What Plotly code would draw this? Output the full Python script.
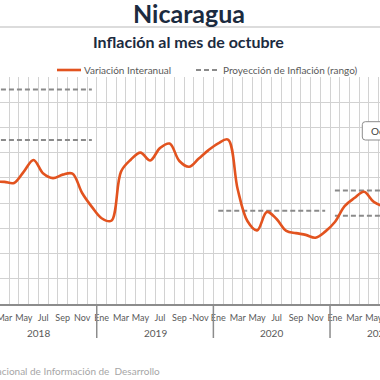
import plotly.graph_objects as go

# ---------------- data ----------------
months = ["Ene", "Feb", "Mar", "Abr", "May", "Jun", "Jul", "Ago", "Sep", "Oct", "Nov", "Dic"]
years = [2018, 2019, 2020, 2021]

# Variación interanual (%), monthly from Ene-2018 to Oct-2021
inflation = [
    4.90, 4.85, 4.84, 4.80, 5.25, 5.71, 5.17, 4.99, 5.13, 5.17, 4.40, 3.85,   # 2018
    3.40, 3.30, 5.25, 5.72, 6.00, 5.69, 6.18, 6.36, 5.67, 5.44, 5.77, 6.10,   # 2019
    6.37, 6.52, 4.55, 3.29, 2.92, 3.65, 3.37, 2.90, 2.81, 2.74, 2.63, 2.87,   # 2020
    3.25, 3.88, 4.20, 4.45, 4.05, 3.91, 4.30, 4.90, 5.40, 5.90,               # 2021
]

# Proyección de inflación (rango) por año
proj_years = [2018, 2020, 2021]
proj_low = [6.5, 3.7, 3.5]
proj_high = [8.5, 3.7, 4.5]

# month tick labels (every other month)
tick_month_idx = [0, 2, 4, 6, 8, 10]
special_labels = {(2019, 10): "-Nov"}

legend_names = ["Variación Interanual", "Proyección de Inflación (rango)"]
source_text = "Fuente: Sistema Nacional de Información de\u00a0 Desarrollo"
callout_text = "Octubre"

# ---------------- layout helpers ----------------
W, H = 380, 380
T, B = 77, 76
plot_h = H - T - B
x_range = [1.55, 40.64]
n = len(inflation)


def px_x(i):
    return (i - x_range[0]) / (x_range[1] - x_range[0])


def py(ypix):
    return (H - B - ypix) / plot_h


x_idx = list(range(n))

# projection dashed segments (Ene..last month of each year)
px_list, py_list = [], []
for yr, lo, hi in zip(proj_years, proj_low, proj_high):
    s = (yr - years[0]) * 12
    e = min(s + 11, n - 1)
    levels = [hi] if lo == hi else [hi, lo]
    for lv in levels:
        px_list += [s, e, None]
        py_list += [lv, lv, None]

tickvals, ticktext = [], []
for yi, yr in enumerate(years):
    for m in tick_month_idx:
        tickvals.append(yi * 12 + m)
        ticktext.append(special_labels.get((yr, m), months[m]))

RED = "#E2531F"
GRAY_DASH = "#8a8a8a"

fig = go.Figure()
fig.add_trace(go.Scatter(
    x=px_list, y=py_list, mode="lines", name=legend_names[1],
    line=dict(color=GRAY_DASH, width=2, dash="5px,3px"), showlegend=False,
    hoverinfo="skip",
))
fig.add_trace(go.Scatter(
    x=x_idx, y=inflation, mode="lines", name=legend_names[0],
    line=dict(color=RED, width=2.6, shape="spline", smoothing=1.0), showlegend=False,
))

grid = "#d2d2d2"
fig.update_layout(
    width=W, height=H,
    margin=dict(l=0, r=0, t=T, b=B, autoexpand=False),
    paper_bgcolor="white", plot_bgcolor="white",
    font=dict(family="Lato, 'DejaVu Sans', sans-serif", color="#595959", size=10),
    showlegend=False,
    xaxis=dict(range=x_range, tickmode="array", tickvals=tickvals, ticktext=ticktext,
               showgrid=False, zeroline=False, showline=True, linecolor="#8c8c8c", linewidth=1.5,
               ticks="", tickfont=dict(size=9, color="#595959"), ticklabelstandoff=4,
               tickangle=0, automargin=False, ticklabeloverflow="allow",
               minor=dict(tickmode="linear", tick0=-0.5, dtick=1, showgrid=True,
                          gridcolor=grid, gridwidth=1)),
    yaxis=dict(range=[0, 9], dtick=1, showgrid=True, gridcolor=grid, gridwidth=1,
               showticklabels=False, zeroline=False, showline=False, automargin=False),
)

shapes = []
# title underline
shapes.append(dict(type="line", xref="paper", yref="paper", x0=0, x1=1, y0=py(27), y1=py(27),
                   line=dict(color="#dcdcdc", width=2)))
# legend symbols
shapes.append(dict(type="line", xref="paper", yref="paper", x0=57 / W, x1=81 / W, y0=py(70), y1=py(70),
                   line=dict(color=RED, width=2.6)))
shapes.append(dict(type="line", xref="paper", yref="paper", x0=196 / W, x1=219 / W, y0=py(70), y1=py(70),
                   line=dict(color=GRAY_DASH, width=2, dash="5px,3px")))
# year separators
for yi in range(1, len(years)):
    xs = px_x(yi * 12 - 0.5)
    shapes.append(dict(type="line", xref="paper", yref="paper", x0=xs, x1=xs,
                       y0=0, y1=py(338), line=dict(color="#8c8c8c", width=1.5)))
# callout box (rounded, clipped at right)
x0b, x1b, y0b, y1b, r = 362.3, 420, 121.7, 140, 3
path = (f"M {(x0b + r) / W} {py(y0b)} L {x1b / W} {py(y0b)} L {x1b / W} {py(y1b)} "
        f"L {(x0b + r) / W} {py(y1b)} Q {x0b / W} {py(y1b)} {x0b / W} {py(y1b - r)} "
        f"L {x0b / W} {py(y0b + r)} Q {x0b / W} {py(y0b)} {(x0b + r) / W} {py(y0b)} Z")
shapes.append(dict(type="path", xref="paper", yref="paper", path=path,
                   fillcolor="white", line=dict(color="#8c8c8c", width=1)))
fig.update_layout(shapes=shapes)

ann = []
ann.append(dict(text="<b>Nicaragua</b>", xref="paper", yref="paper", x=188.5 / W, y=py(13),
                xanchor="center", yanchor="middle", showarrow=False,
                font=dict(size=25, color="#1c2b40", family="Lato, sans-serif")))
ann.append(dict(text="<b>Inflación al mes de octubre</b>", xref="paper", yref="paper",
                x=188.5 / W, y=py(41.5), xanchor="center", yanchor="middle", showarrow=False,
                font=dict(size=16, color="#1c2b40", family="Lato, sans-serif")))
ann.append(dict(text=legend_names[0], xref="paper", yref="paper", x=82 / W, y=py(70),
                xanchor="left", yanchor="middle", showarrow=False,
                font=dict(size=10, color="#595959")))
ann.append(dict(text=legend_names[1], xref="paper", yref="paper", x=221 / W, y=py(70),
                xanchor="left", yanchor="middle", showarrow=False,
                font=dict(size=10, color="#595959")))
for yi, yr in enumerate(years):
    s = yi * 12
    e = min(s + 11, n - 1)
    ann.append(dict(text=str(yr), xref="paper", yref="paper", x=px_x((s + e) / 2), y=py(332.5),
                    xanchor="center", yanchor="middle", showarrow=False,
                    font=dict(size=10, color="#595959")))
ann.append(dict(text=source_text, xref="paper", yref="paper", x=161.7 / W, y=py(370.7),
                xanchor="right", yanchor="middle", showarrow=False,
                font=dict(size=10, color="#a6a6a6")))
ann.append(dict(text=callout_text, xref="paper", yref="paper", x=369 / W, y=py(131),
                xanchor="left", yanchor="middle", showarrow=False,
                font=dict(size=10, color="#404040")))
fig.update_layout(annotations=ann)

fig.write_html("out.html", config={"displayModeBar": False},
               post_script="document.body.style.margin='0px';")
